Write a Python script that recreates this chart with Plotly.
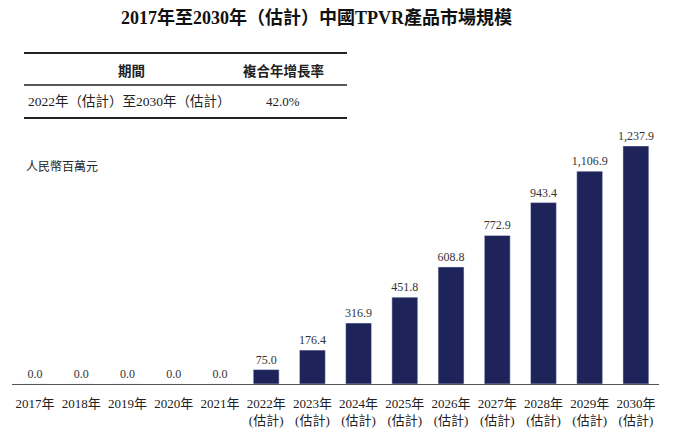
import plotly.graph_objects as go

years = ["2017年", "2018年", "2019年", "2020年", "2021年", "2022年", "2023年",
         "2024年", "2025年", "2026年", "2027年", "2028年", "2029年", "2030年"]
estimated = [False] * 5 + [True] * 9
values = [0.0, 0.0, 0.0, 0.0, 0.0, 75.0, 176.4, 316.9, 451.8, 608.8, 772.9, 943.4, 1106.9, 1237.9]

title = "2017年至2030年（估計）中國TPVR產品市場規模"
table_header = ["期間", "複合年增長率"]
table_row = ["2022年（估計）至2030年（估計）", "42.0%"]
unit = "人民幣百萬元"
est_mark = "(估計)"  # narrow parens so neighbouring tick labels don't collide

# page body has an 8px margin, so the figure is a bit smaller than the window
OFF = 8
W, H = 684 - OFF, 428 - OFF
L, R, T, B = 12 - OFF, 25, 130 - OFF, 44
SERIF = "Liberation Serif, Noto Sans CJK TC, serif"
SANS = "Noto Sans CJK TC, sans-serif"
BAR = "#1e2459"


# window pixel -> paper helpers
def px(x):
    return (x - OFF - L) / (W - L - R)


def py(y):
    return (H - B - (y - OFF)) / (H - T - B)


ticks = [y + ("<br>" + est_mark if e else "") for y, e in zip(years, estimated)]
labels = [f"{v:,.1f}" for v in values]

fig = go.Figure(go.Bar(
    x=ticks, y=values, width=0.56, marker_color=BAR,
    text=labels, textposition="outside", cliponaxis=False, constraintext="none",
    textfont=dict(family=SERIF, size=12, color="#333333"),
))

fig.update_layout(
    width=W, height=H, margin=dict(l=L, r=R, t=T, b=B, autoexpand=False),
    plot_bgcolor="white", paper_bgcolor="white", showlegend=False,
    font=dict(family=SERIF, size=12, color="#222222"),
)
fig.update_xaxes(showline=True, linecolor="#555555", linewidth=1, ticks="",
                 tickangle=0, automargin=False, ticklabelstandoff=7,
                 tickfont=dict(family=SERIF, size=13, color="#222222"))
fig.update_yaxes(range=[0, 1321], visible=False)

ann = [
    (title, 316, 18, "center", dict(family=SERIF, size=18, color="#111111"), True),
    (table_header[0], 131, 70, "center", dict(family=SANS, size=13.5, color="#222222"), True),
    (table_header[1], 283, 70, "center", dict(family=SANS, size=13.5, color="#222222"), True),
    (table_row[0], 26, 101, "left", dict(family=SERIF, size=13.5, color="#222222"), False),
    (table_row[1], 283, 101, "center", dict(family=SERIF, size=13, color="#222222"), False),
    (unit, 24, 167, "left", dict(family=SERIF, size=12, color="#222222"), False),
]
for text, x, y, anchor, font, bold in ann:
    fig.add_annotation(
        text=f"<b>{text}</b>" if bold else text, x=px(x), y=py(y),
        xref="paper", yref="paper", xanchor=anchor, yanchor="middle",
        showarrow=False, font=font,
    )

for y, w in [(53, 2), (85, 1.5), (118, 2)]:
    fig.add_shape(type="line", xref="paper", yref="paper",
                  x0=px(24), x1=px(347), y0=py(y), y1=py(y),
                  line=dict(color="#222222", width=w))

fig.write_html("out.html")
